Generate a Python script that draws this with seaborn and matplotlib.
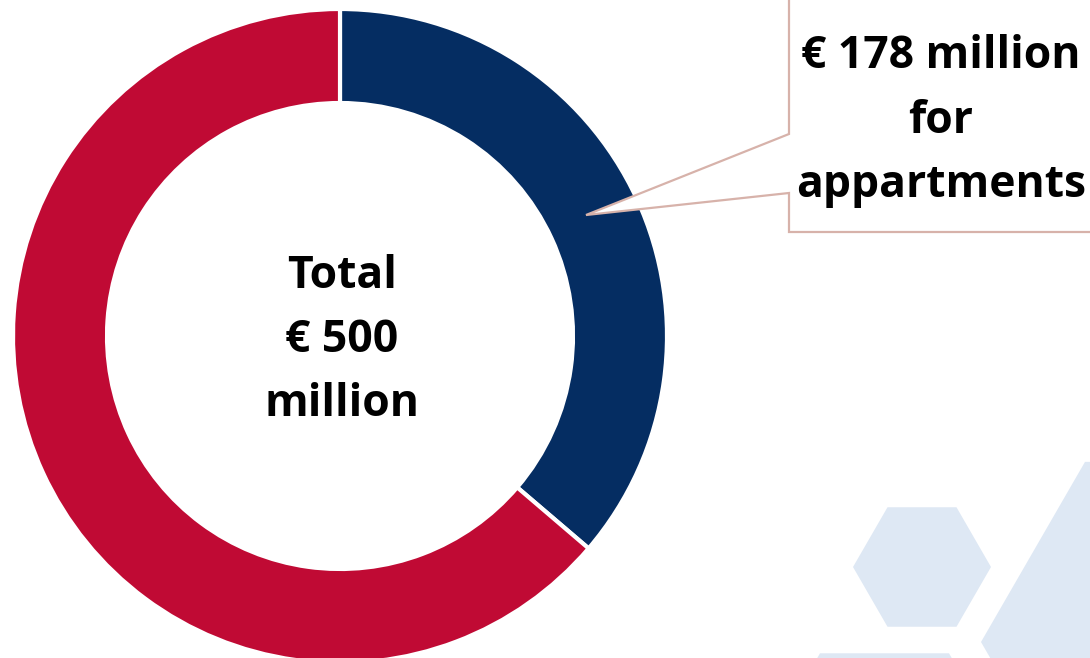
import matplotlib
matplotlib.use("Agg")
import matplotlib.pyplot as plt
from matplotlib.patches import Polygon, RegularPolygon
import numpy as np
import seaborn as sns

# ---- data ----
categories = ["Appartments", "Other"]
values = [178, 313]          # € million, as drawn (wedge ≈ 36% of ring)
colors = ["#052D62", "#C00A34"]
center_lines = ["Total", "€ 500", "million"]
callout_lines = ["€ 178 million", "for", "appartments"]

sns.set_theme(style="white")
plt.rcParams['font.family'] = ['Open Sans', 'DejaVu Sans']

W, H = 1090, 658
fig = plt.figure(figsize=(W / 100, H / 100), dpi=100)
ax = fig.add_axes([0, 0, 1, 1])

def py(y):  # pixel-from-top to data y
    return H - y

# background hexagons
hex_color = "#DEE8F4"
for (cx, cy, r) in [(922, 567, 69), (1189, 642, 208), (884.5, 765, 129)]:
    ax.add_patch(RegularPolygon((cx, py(cy)), numVertices=6, radius=r,
                                orientation=np.pi / 6, facecolor=hex_color,
                                edgecolor='none', zorder=0))

# donut
ax.pie(values, colors=colors, startangle=90, counterclock=False,
       center=(340, py(336)), radius=327, frame=True,
       wedgeprops=dict(width=94, edgecolor='white', linewidth=3))
ax.set_xlim(0, W)
ax.set_ylim(0, H)
ax.set_aspect('equal')
ax.axis('off')

# center text
for txt, base in zip(center_lines, [288, 352, 416]):
    ax.text(342, py(base), txt, ha='center', va='baseline', fontsize=32,
            fontweight='bold', color='black', zorder=5)

# callout box
pts = [(789, py(-10)), (789, py(134)), (586, py(215)), (789, py(193)),
       (789, py(232)), (1100, py(232)), (1100, py(-10))]
ax.add_patch(Polygon(pts, closed=True, facecolor='white', edgecolor='#D7B2AA',
                     linewidth=1.6, zorder=4, joinstyle='miter'))
for txt, base in zip(callout_lines, [68, 133, 197]):
    ax.text(941, py(base), txt, ha='center', va='baseline', fontsize=32,
            fontweight='bold', color='black', zorder=5)

fig.savefig("out.png", dpi=100)
